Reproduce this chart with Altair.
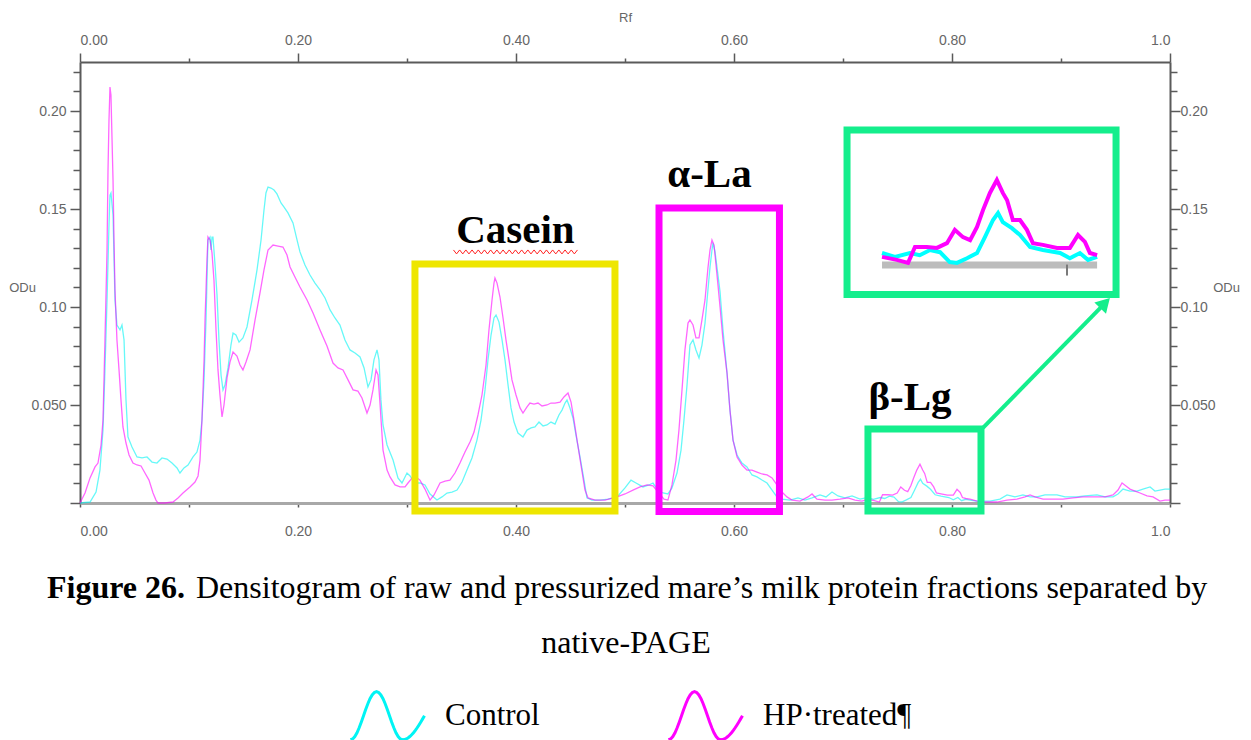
import math
import altair as alt
import pandas as pd

# ---------------- data (Rf, ODu) ----------------
control = [
(0.0000,0.0000),(0.0092,0.0005),(0.0147,0.0056),(0.0183,0.0168),(0.0211,0.0372),(0.0229,0.0679),(0.0248,0.1036),(0.0266,0.1418),(0.0275,0.1571),(0.0284,0.1582),
(0.0303,0.1469),(0.0321,0.1036),(0.0339,0.0908),(0.0367,0.0883),(0.0385,0.0908),(0.0404,0.0832),(0.0422,0.0526),(0.0440,0.0337),(0.0477,0.0286),(0.0523,0.0235),
(0.0569,0.0230),(0.0615,0.0235),(0.0661,0.0209),(0.0706,0.0204),(0.0752,0.0230),(0.0798,0.0224),(0.0844,0.0204),(0.0890,0.0179),(0.0917,0.0153),(0.0954,0.0179),
(0.0991,0.0194),(0.1037,0.0235),(0.1073,0.0260),(0.1101,0.0321),(0.1119,0.0423),(0.1138,0.0628),(0.1156,0.0934),(0.1165,0.1138),(0.1174,0.1342),(0.1193,0.1357),
(0.1202,0.1291),(0.1211,0.1357),(0.1220,0.1357),(0.1239,0.1214),(0.1257,0.1061),(0.1275,0.0832),(0.1294,0.0653),(0.1312,0.0577),(0.1330,0.0602),(0.1358,0.0689),
(0.1385,0.0806),(0.1404,0.0867),(0.1431,0.0857),(0.1459,0.0821),(0.1495,0.0842),(0.1532,0.0898),(0.1578,0.1036),(0.1624,0.1189),(0.1661,0.1342),(0.1688,0.1495),
(0.1706,0.1582),(0.1725,0.1612),(0.1752,0.1607),(0.1780,0.1597),(0.1807,0.1577),(0.1844,0.1531),(0.1872,0.1510),(0.1908,0.1480),(0.1954,0.1429),(0.1991,0.1342),
(0.2018,0.1281),(0.2064,0.1214),(0.2110,0.1163),(0.2156,0.1122),(0.2202,0.1087),(0.2248,0.1046),(0.2294,0.0985),(0.2339,0.0944),(0.2385,0.0908),(0.2431,0.0832),
(0.2477,0.0781),(0.2523,0.0765),(0.2569,0.0745),(0.2606,0.0689),(0.2642,0.0592),(0.2670,0.0628),(0.2697,0.0730),(0.2725,0.0781),(0.2743,0.0730),(0.2761,0.0526),
(0.2780,0.0398),(0.2817,0.0296),(0.2872,0.0219),(0.2917,0.0128),(0.2954,0.0102),(0.3000,0.0153),(0.3028,0.0138),(0.3073,0.0102),(0.3119,0.0102),(0.3165,0.0092),
(0.3211,0.0046),(0.3275,0.0015),(0.3321,0.0031),(0.3367,0.0051),(0.3413,0.0056),(0.3459,0.0066),(0.3505,0.0107),(0.3550,0.0168),(0.3596,0.0230),(0.3642,0.0321),
(0.3679,0.0423),(0.3716,0.0577),(0.3743,0.0730),(0.3771,0.0857),(0.3798,0.0944),(0.3817,0.0959),(0.3844,0.0923),(0.3872,0.0832),(0.3899,0.0730),(0.3927,0.0602),
(0.3954,0.0485),(0.3982,0.0413),(0.4018,0.0357),(0.4064,0.0337),(0.4101,0.0372),(0.4138,0.0383),(0.4174,0.0388),(0.4211,0.0413),(0.4248,0.0393),(0.4284,0.0398),
(0.4321,0.0413),(0.4358,0.0403),(0.4394,0.0449),(0.4422,0.0474),(0.4450,0.0510),(0.4468,0.0526),(0.4495,0.0485),(0.4523,0.0434),(0.4550,0.0347),(0.4587,0.0235),
(0.4624,0.0117),(0.4651,0.0026),(0.4697,0.0015),(0.4771,0.0015),(0.4844,0.0020),(0.4927,0.0031),(0.5000,0.0077),(0.5055,0.0117),(0.5101,0.0102),(0.5165,0.0082),
(0.5220,0.0092),(0.5257,0.0102),(0.5303,0.0066),(0.5349,0.0051),(0.5394,0.0046),(0.5431,0.0077),(0.5477,0.0153),(0.5514,0.0270),(0.5541,0.0423),(0.5569,0.0602),
(0.5596,0.0806),(0.5624,0.0832),(0.5651,0.0781),(0.5679,0.0740),(0.5706,0.0806),(0.5734,0.0918),(0.5761,0.1087),(0.5780,0.1204),(0.5798,0.1291),(0.5807,0.1327),
(0.5826,0.1281),(0.5853,0.1163),(0.5872,0.1077),(0.5899,0.0883),(0.5936,0.0663),(0.5963,0.0474),(0.5991,0.0321),(0.6028,0.0245),(0.6073,0.0204),(0.6119,0.0184),
(0.6165,0.0143),(0.6211,0.0133),(0.6257,0.0117),(0.6303,0.0102),(0.6349,0.0066),(0.6394,0.0031),(0.6440,0.0020),(0.6514,0.0015),(0.6587,0.0026),(0.6651,0.0015),
(0.6716,0.0026),(0.6789,0.0041),(0.6844,0.0031),(0.6899,0.0056),(0.6954,0.0036),(0.7018,0.0026),(0.7083,0.0036),(0.7156,0.0020),
(0.7225,0.0028),(0.7279,0.0019),(0.7342,0.0028),(0.7383,0.0023),(0.7426,0.0035),(0.7468,0.0030),(0.7509,0.0007),(0.7539,0.0005),(0.7581,0.0016),(0.7623,0.0028),
(0.7656,0.0065),(0.7690,0.0105),(0.7711,0.0121),(0.7731,0.0100),(0.7769,0.0086),(0.7803,0.0070),(0.7845,0.0042),(0.7899,0.0035),(0.7971,0.0028),(0.8012,0.0016),
(0.8054,0.0028),(0.8088,0.0012),(0.8126,0.0019),
(0.8165,0.0015),(0.8229,0.0010),(0.8349,0.0010),(0.8440,0.0020),(0.8505,0.0041),(0.8578,0.0031),(0.8651,0.0041),(0.8716,0.0031),(0.8780,0.0031),(0.8853,0.0041),
(0.8963,0.0041),(0.9037,0.0031),(0.9147,0.0031),(0.9220,0.0036),(0.9330,0.0041),(0.9404,0.0031),(0.9477,0.0031),(0.9523,0.0046),(0.9569,0.0071),(0.9633,0.0061),
(0.9697,0.0061),(0.9752,0.0071),(0.9817,0.0082),(0.9862,0.0061),(0.9908,0.0066),(0.9954,0.0071),(1.0000,0.0071),
]

hp_treated = [
(0.0000,0.0000),(0.0046,0.0051),(0.0092,0.0128),(0.0138,0.0184),(0.0165,0.0204),(0.0193,0.0296),(0.0211,0.0423),(0.0229,0.0832),(0.0248,0.1291),(0.0257,0.1699),
(0.0266,0.1954),(0.0275,0.2122),(0.0284,0.2082),(0.0294,0.1852),(0.0303,0.1648),(0.0312,0.1342),(0.0321,0.1087),(0.0339,0.0832),(0.0358,0.0679),(0.0376,0.0526),
(0.0394,0.0388),(0.0422,0.0306),(0.0450,0.0245),(0.0486,0.0204),(0.0523,0.0194),(0.0560,0.0189),(0.0596,0.0153),(0.0633,0.0117),(0.0670,0.0051),(0.0697,0.0015),
(0.0716,0.0000),(0.0780,0.0000),(0.0853,0.0005),(0.0899,0.0026),(0.0945,0.0051),(0.1009,0.0082),(0.1055,0.0107),(0.1083,0.0138),(0.1101,0.0219),(0.1119,0.0423),
(0.1138,0.0730),(0.1147,0.0934),(0.1165,0.1240),(0.1174,0.1357),(0.1193,0.1342),(0.1211,0.1276),(0.1229,0.1138),(0.1248,0.0883),(0.1266,0.0679),(0.1284,0.0551),
(0.1303,0.0439),(0.1321,0.0500),(0.1349,0.0638),(0.1376,0.0719),(0.1404,0.0770),(0.1440,0.0750),(0.1468,0.0704),(0.1495,0.0679),(0.1523,0.0719),(0.1560,0.0781),
(0.1606,0.0934),(0.1651,0.1071),(0.1688,0.1189),(0.1725,0.1291),(0.1771,0.1316),(0.1817,0.1311),(0.1862,0.1306),(0.1899,0.1265),(0.1927,0.1204),(0.1972,0.1153),
(0.2018,0.1102),(0.2083,0.1036),(0.2138,0.0969),(0.2202,0.0883),(0.2266,0.0801),(0.2321,0.0714),(0.2367,0.0689),(0.2413,0.0679),(0.2459,0.0628),(0.2505,0.0577),
(0.2550,0.0571),(0.2587,0.0536),(0.2633,0.0459),(0.2661,0.0500),(0.2688,0.0577),(0.2716,0.0679),(0.2734,0.0653),(0.2752,0.0510),(0.2780,0.0270),(0.2817,0.0168),
(0.2844,0.0133),(0.2890,0.0092),(0.2936,0.0082),(0.2982,0.0082),(0.3009,0.0102),(0.3055,0.0133),(0.3092,0.0128),(0.3119,0.0117),(0.3165,0.0071),(0.3211,0.0015),
(0.3248,0.0041),(0.3303,0.0102),(0.3349,0.0112),(0.3394,0.0117),(0.3440,0.0153),(0.3486,0.0204),(0.3532,0.0260),(0.3578,0.0311),(0.3615,0.0362),(0.3651,0.0449),
(0.3688,0.0551),(0.3725,0.0704),(0.3752,0.0883),(0.3780,0.1036),(0.3798,0.1122),(0.3807,0.1148),(0.3826,0.1122),(0.3853,0.1051),(0.3881,0.0944),(0.3908,0.0832),
(0.3936,0.0730),(0.3963,0.0628),(0.4000,0.0551),(0.4037,0.0485),(0.4064,0.0459),(0.4101,0.0490),(0.4128,0.0510),(0.4165,0.0505),(0.4202,0.0510),(0.4239,0.0495),
(0.4284,0.0500),(0.4321,0.0510),(0.4358,0.0510),(0.4404,0.0515),(0.4440,0.0541),(0.4477,0.0561),(0.4505,0.0515),(0.4532,0.0423),(0.4560,0.0321),(0.4596,0.0194),
(0.4633,0.0066),(0.4661,0.0026),(0.4725,0.0015),(0.4817,0.0015),(0.4927,0.0031),(0.5000,0.0046),(0.5073,0.0066),(0.5138,0.0082),(0.5202,0.0092),(0.5257,0.0087),
(0.5303,0.0056),(0.5358,0.0020),(0.5394,0.0015),(0.5431,0.0092),(0.5468,0.0219),(0.5495,0.0372),(0.5523,0.0577),(0.5550,0.0781),(0.5578,0.0918),(0.5596,0.0934),
(0.5624,0.0908),(0.5651,0.0842),(0.5679,0.0842),(0.5706,0.0934),(0.5734,0.1036),(0.5761,0.1199),(0.5780,0.1291),(0.5798,0.1342),(0.5817,0.1316),(0.5835,0.1214),
(0.5853,0.1112),(0.5872,0.1000),(0.5899,0.0832),(0.5936,0.0663),(0.5963,0.0474),(0.5991,0.0321),(0.6028,0.0235),(0.6073,0.0194),(0.6119,0.0168),(0.6165,0.0168),
(0.6211,0.0158),(0.6257,0.0148),(0.6303,0.0143),(0.6349,0.0128),(0.6394,0.0092),(0.6440,0.0056),(0.6486,0.0031),(0.6532,0.0015),(0.6606,0.0010),(0.6679,0.0031),
(0.6716,0.0046),(0.6761,0.0020),(0.6835,0.0015),(0.6899,0.0015),(0.6972,0.0020),(0.7046,0.0026),(0.7110,0.0015),(0.7174,0.0010),
(0.7225,0.0019),(0.7287,0.0012),(0.7334,0.0005),(0.7363,0.0042),(0.7413,0.0042),(0.7455,0.0040),(0.7497,0.0051),(0.7530,0.0082),(0.7564,0.0065),(0.7594,0.0058),
(0.7623,0.0089),(0.7648,0.0128),(0.7677,0.0168),(0.7706,0.0198),(0.7731,0.0168),(0.7749,0.0151),(0.7773,0.0105),(0.7803,0.0105),(0.7832,0.0082),(0.7857,0.0051),
(0.7899,0.0047),(0.7958,0.0040),(0.8012,0.0040),(0.8046,0.0070),(0.8075,0.0054),(0.8096,0.0028),(0.8126,0.0023),
(0.8165,0.0020),(0.8229,0.0010),(0.8303,0.0005),(0.8413,0.0005),(0.8505,0.0015),(0.8596,0.0020),(0.8670,0.0031),(0.8716,0.0041),(0.8761,0.0031),(0.8835,0.0020),
(0.8927,0.0020),(0.9018,0.0020),(0.9110,0.0026),(0.9202,0.0031),(0.9266,0.0031),(0.9330,0.0031),(0.9404,0.0031),(0.9477,0.0041),(0.9523,0.0066),(0.9560,0.0102),
(0.9596,0.0087),(0.9633,0.0071),(0.9679,0.0061),(0.9725,0.0051),(0.9789,0.0036),(0.9844,0.0031),(0.9908,0.0010),(0.9954,0.0015),(1.0000,0.0015),
]

series_names = ["Control", "HP\u00b7treated\u00b6"]

x_ticks = [0.0, 0.1, 0.2, 0.3, 0.4, 0.5, 0.6, 0.7, 0.8, 0.9, 1.0]
y_ticks = [0.0, 0.01, 0.02, 0.03, 0.04, 0.05, 0.06, 0.07, 0.08, 0.09, 0.10, 0.11,
           0.12, 0.13, 0.14, 0.15, 0.16, 0.17, 0.18, 0.19, 0.20, 0.21, 0.22]

# annotation boxes (Rf / ODu units)
box_names = ["Casein", "alpha", "beta", "beta zoom"]
box_rf_lo = [0.3073, 0.5312, 0.7229, 0.7037]
box_rf_hi = [0.4908, 0.6417, 0.8266, 0.9505]
box_od_lo = [-0.0041, -0.0043, -0.0041, 0.1064]
box_od_hi = [0.1219, 0.1505, 0.0378, 0.1903]

label_text = ["Casein", "\u03b1-La", "\u03b2-Lg"]
label_rf = [0.3995, 0.5775, 0.7615]
label_od = [0.1327, 0.1612, 0.0474]

arrow_rf = [0.8284, 0.9404]
arrow_od = [0.0383, 0.1020]

squiggle_rf = [0.3995]
squiggle_od = [0.1281]

# zoomed inset of the beta-Lg window
inset_window = [0.7225, 0.8126]
inset_origin = [0.7358, 0.1214]
inset_zoom = 2.19
inset_tick = [0.80]

caption_bold = "Figure 26."
caption_rest = "Densitogram of raw and pressurized mare\u2019s milk protein fractions separated by"
caption_line2 = "native-PAGE"

# ---------------- styles ----------------
CYAN = "#00F4F4"
MAGENTA = "#FF00FF"
YELLOW = "#EEE600"
GREEN = "#14EE8C"
AX = "#5a5a5a"
LAB = "#666666"
LFONT = "Liberation Sans"
SERIF = "Liberation Serif"

rows = []
for name, pts in zip(series_names, [control, hp_treated]):
    for rf, od in pts:
        rows.append({"Rf": rf, "OD": od, "Sample": name})
df = pd.DataFrame(rows)

xs = alt.Scale(domain=[0, 1], nice=False, zero=False)
ys = alt.Scale(domain=[0, 0.225], nice=False, zero=False)

x_major = "abs(round(datum.value * 10)) % 2 == 0"
x_label = f"({x_major}) ? (datum.value > 0.99 ? '1.0' : format(datum.value, '.2f')) : ''"
y_major = "abs(round(datum.value * 100)) % 5 == 0"
y_label = ("datum.value < 0.001 ? '' : (abs(round(datum.value * 100)) == 5 ? '0.050' : "
           f"(({y_major}) ? format(datum.value, '.2f') : ''))")

common = dict(grid=False, labelFont=LFONT, labelFontSize=14, labelColor=LAB,
              tickColor=AX, tickWidth=1.5, domainColor=AX, domainWidth=2,
              titleFont=LFONT, titleFontSize=13, titleColor=LAB, titleFontWeight="normal")

top_axis = alt.Axis(orient="top", values=x_ticks, labelExpr=x_label,
                    tickSize={"condition": {"test": x_major, "value": 9}, "value": 4},
                    labelPadding=13, labelBaseline="middle", title="Rf",
                    titleX=545, titleY=-45, titleBaseline="middle", **common)
bottom_axis = alt.Axis(orient="bottom", values=x_ticks, labelExpr=x_label, tickSize=4,
                       labelPadding=24, labelBaseline="middle", title=None,
                       **{**common, "domainColor": "#a8a8a8", "domainWidth": 3})
left_axis = alt.Axis(orient="left", values=y_ticks, labelExpr=y_label,
                     tickSize={"condition": {"test": y_major, "value": 10}, "value": 7},
                     labelPadding=4, title="ODu", titleAngle=0, titleX=-58, titleY=225,
                     titleAlign="center", titleBaseline="middle", **common)
right_axis = alt.Axis(orient="right", values=y_ticks, labelExpr=y_label,
                      tickSize={"condition": {"test": y_major, "value": 10}, "value": 7},
                      labelPadding=0, title="ODu", titleAngle=0, titleX=56, titleY=225,
                      titleAlign="center", titleBaseline="middle", **common)

# legend glyph: one and a quarter sine waves
def wave_path():
    keys = [(-math.pi / 2, -1.0), (math.pi / 2, -0.297), (3 * math.pi / 2, 0.405), (2 * math.pi, 1.0)]
    pts = []
    for i in range(len(keys) - 1):
        (t0, x0), (t1, x1) = keys[i], keys[i + 1]
        for j in range(12):
            f = j / 12
            t = t0 + (t1 - t0) * f
            pts.append((x0 + (x1 - x0) * f, -0.65 * math.sin(t)))
    pts.append((1.0, -0.65 * math.sin(2 * math.pi)))
    return "M" + " L".join(f"{x:.3f},{y:.3f}" for x, y in pts)

def zigzag_path(n=40, a=0.032):
    pts = [(-1 + 2 * i / n, (-a if i % 2 == 0 else a)) for i in range(n + 1)]
    return "M" + " L".join(f"{x:.3f},{y:.3f}" for x, y in pts)

color_scale = alt.Scale(domain=series_names, range=[CYAN, MAGENTA])
legend = alt.Legend(orient="none", legendX=269, legendY=615, direction="horizontal", title=None,
                    symbolType=wave_path(), symbolSize=5476, symbolStrokeWidth=3, symbolOpacity=1,
                    labelFont=SERIF, labelFontSize=31, labelColor="black", labelOffset=19,
                    columnPadding=122, padding=0)

lines = alt.Chart(df).mark_line(strokeWidth=1.3, opacity=0.6).encode(
    x=alt.X("Rf:Q", scale=xs, axis=top_axis),
    y=alt.Y("OD:Q", scale=ys, axis=left_axis),
    color=alt.Color("Sample:N", scale=color_scale, legend=legend),
)

xi_expr = f"{inset_origin[0]} + (datum.Rf - {inset_window[0]}) * {inset_zoom}"
yi_expr = f"{inset_origin[1]} + datum.OD * {inset_zoom}"

band = alt.Chart(pd.DataFrame({"Rf": inset_window, "OD": [0.0, 0.0]})).transform_calculate(
    xi=xi_expr, yi=yi_expr).mark_line(color="#bcbcbc", strokeWidth=7).encode(
    x=alt.X("xi:Q", scale=xs, axis=None), y=alt.Y("yi:Q", scale=ys, axis=None))

band_tick = alt.Chart(pd.DataFrame({"Rf": inset_tick, "OD": [0.0]})).transform_calculate(
    xi=xi_expr, yi=yi_expr).mark_tick(orient="vertical", size=11, thickness=2, yOffset=5,
                                      color="#7a7a7a", opacity=1).encode(
    x=alt.X("xi:Q", scale=xs, axis=None), y=alt.Y("yi:Q", scale=ys, axis=None))

def inset_line(name, color):
    return alt.Chart(df).transform_filter(alt.datum.Sample == name).transform_filter(
        (alt.datum.Rf >= inset_window[0] - 1e-6) & (alt.datum.Rf <= inset_window[1] + 1e-6)
    ).transform_calculate(xi=xi_expr, yi=yi_expr).mark_line(
        color=color, strokeWidth=4, strokeJoin="miter").encode(
        x=alt.X("xi:Q", scale=xs, axis=None), y=alt.Y("yi:Q", scale=ys, axis=None))

boxes_df = pd.DataFrame({"box": box_names, "x1": box_rf_lo, "x2": box_rf_hi,
                         "y1": box_od_lo, "y2": box_od_hi})
boxes = alt.Chart(boxes_df).mark_rect(filled=False, strokeWidth=7, strokeJoin="miter").encode(
    x=alt.X("x1:Q", scale=xs, axis=bottom_axis), x2="x2:Q",
    y=alt.Y("y1:Q", scale=ys, axis=right_axis), y2="y2:Q",
    stroke=alt.Stroke("box:N", scale=alt.Scale(domain=box_names, range=[YELLOW, MAGENTA, GREEN, GREEN]),
                      legend=None),
)

arrow_df = pd.DataFrame({"x1": [arrow_rf[0]], "x2": [arrow_rf[1]], "y1": [arrow_od[0]], "y2": [arrow_od[1]]})
arrow = alt.Chart(arrow_df).mark_rule(color=GREEN, strokeWidth=4).encode(
    x=alt.X("x1:Q", scale=xs, axis=None), x2="x2:Q",
    y=alt.Y("y1:Q", scale=ys, axis=None), y2="y2:Q")
arrow_head = alt.Chart(arrow_df).mark_point(shape="triangle-up", filled=True, size=260, angle=44,
                                            color=GREEN, opacity=1).encode(
    x=alt.X("x2:Q", scale=xs, axis=None), y=alt.Y("y2:Q", scale=ys, axis=None))

labels_df = pd.DataFrame({"t": label_text, "Rf": label_rf, "OD": label_od})
labels = alt.Chart(labels_df).mark_text(font=SERIF, fontWeight="bold", fontSize=41,
                                        baseline="alphabetic", align="center", color="black").encode(
    x=alt.X("Rf:Q", scale=xs, axis=None), y=alt.Y("OD:Q", scale=ys, axis=None), text="t:N")

squiggle = alt.Chart(pd.DataFrame({"Rf": squiggle_rf, "OD": squiggle_od})).mark_point(
    shape=zigzag_path(), size=15376, strokeWidth=1, color="#ff2020", filled=False, opacity=1).encode(
    x=alt.X("Rf:Q", scale=xs, axis=None), y=alt.Y("OD:Q", scale=ys, axis=None))

cap1 = alt.Chart(pd.DataFrame({"t": [caption_bold]})).mark_text(
    font=SERIF, fontSize=32, fontWeight="bold", align="left", baseline="middle", color="black").encode(
    x=alt.value(-33), y=alt.value(526), text="t:N")
cap2 = alt.Chart(pd.DataFrame({"t": [caption_rest]})).mark_text(
    font=SERIF, fontSize=32, align="left", baseline="middle", color="black").encode(
    x=alt.value(116), y=alt.value(526), text="t:N")
cap3 = alt.Chart(pd.DataFrame({"t": [caption_line2]})).mark_text(
    font=SERIF, fontSize=32, align="center", baseline="middle", color="black").encode(
    x=alt.value(546), y=alt.value(581), text="t:N")

chart = alt.layer(
    lines, band, band_tick, inset_line(series_names[0], "#00FFFF"), inset_line(series_names[1], MAGENTA),
    boxes, arrow, arrow_head, labels, squiggle, cap1, cap2, cap3,
).resolve_scale(x="shared", y="shared").resolve_axis(x="independent", y="independent").properties(
    width=1090, height=441,
    autosize=alt.AutoSizeParams(type="none"),
    padding={"left": 72, "top": 54, "right": 73, "bottom": 237},
    background="white",
).configure_view(stroke=None)

chart.save("out.html", embed_options={"renderer": "svg", "actions": False})
